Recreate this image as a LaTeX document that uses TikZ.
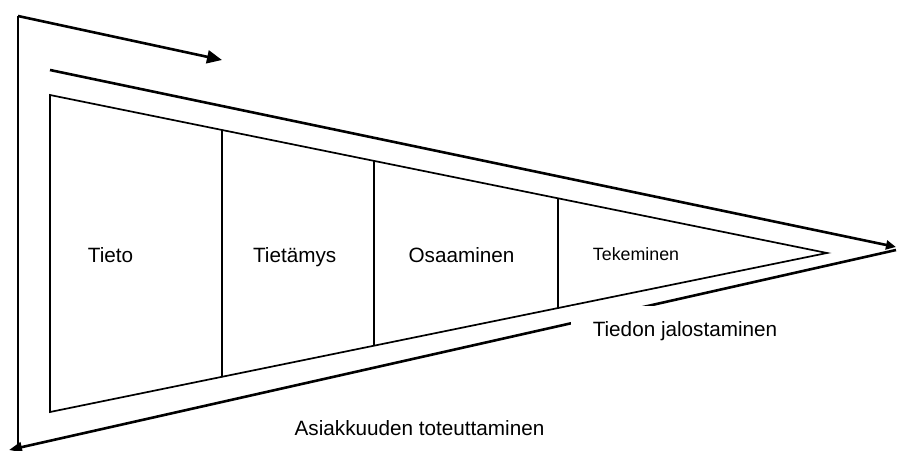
\documentclass[tikz,border=0pt]{standalone}
\usepackage{fontspec}
\setmainfont{Liberation Sans}
\usetikzlibrary{arrows.meta}
\begin{document}
\begin{tikzpicture}[x=1pt,y=-1pt,
  flow/.style={line width=2.6pt},
  wedge/.style={line width=1.7pt, line join=miter},
  divider/.style={line width=1.7pt},
  lbl/.style={anchor=base, inner sep=0pt, font=\fontsize{20.7}{24}\selectfont},
  smalllbl/.style={anchor=base, inner sep=0pt, font=\fontsize{17.8}{21}\selectfont},
  maskedlbl/.style={lbl, fill=white, inner xsep=22pt, text height=30pt, text depth=6pt}]
\useasboundingbox (0,0) rectangle (897,450);

% outer loop
\coordinate (start) at (18,16);
\coordinate (turn) at (18,447);
\coordinate (loopend) at (222,60);
\coordinate (upperin) at (50,70);
\coordinate (tip) at (896,247);
\coordinate (tipb) at (896,250);
\coordinate (out) at (9,450);

% inner wedge
\coordinate (tl) at (50,95);
\coordinate (bl) at (50,412);
\coordinate (apex) at (827,253);

% divider ends
\coordinate (d1t) at (222,130);   \coordinate (d1b) at (222,376.8);
\coordinate (d2t) at (374,160.9); \coordinate (d2b) at (374,345.7);
\coordinate (d3t) at (558,198.3); \coordinate (d3b) at (558,308);

\draw[flow, -{Triangle[length=15pt,width=13pt]}] (start) -- (loopend);
\draw[flow] (start) -- (turn);
\draw[flow, -{Triangle[length=10pt,width=9pt]}] (upperin) -- (tip);
\draw[flow, -{Triangle[length=13pt,width=10pt]}] (tipb) -- (out);

\draw[wedge] (tl) -- (apex) -- (bl) -- cycle;
\draw[divider] (d1t) -- (d1b);
\draw[divider] (d2t) -- (d2b);
\draw[divider] (d3t) -- (d3b);

\node[lbl] (tieto) at (110.5,262) {Tieto};
\node[lbl] (tietamys) at (294.7,262) {Tietämys};
\node[lbl] (osaaminen) at (461.5,262) {Osaaminen};
\node[smalllbl] (tekeminen) at (636,260) {Tekeminen};
\node[maskedlbl] (jalostus) at (685,336) {Tiedon jalostaminen};
\node[lbl] (asiakkuus) at (419.5,435) {Asiakkuuden toteuttaminen};
\end{tikzpicture}
\end{document}
